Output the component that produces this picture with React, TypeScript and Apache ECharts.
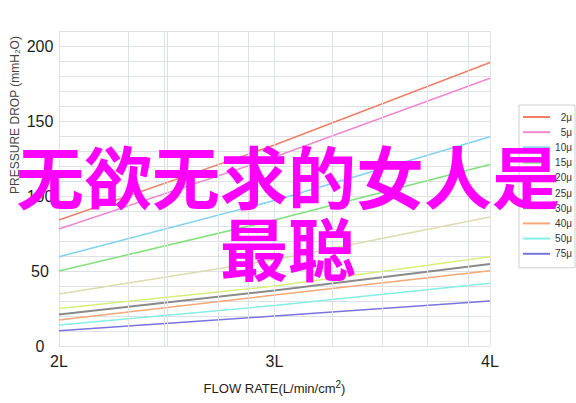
import React, { useEffect, useRef } from "react";
import * as echarts from "echarts";

// flow rate (L/min/cm2) sampled at the axis ticks
const flowRates = [2, 3, 4];
const xTickLabels = ["2L", "3L", "4L"];
// extra vertical grid lines of the original chart paper
const gridX = [2.32, 2.49, 2.5, 2.74, 2.88, 3, 3.27, 3.5, 3.71, 3.9, 4];

const filterNames = ["2μ", "5μ", "10μ", "15μ", "20μ", "25μ", "30μ", "40μ", "50μ", "75μ"];
const filterColors = [
    "#ef7f66",
    "#ee88d0",
    "#7fd2ef",
    "#82e07c",
    "#dcdcae",
    "#d6ef7a",
    "#8a8a8a",
    "#f4a878",
    "#86eee4",
    "#7a74e0",
];

// pressure drop (mmH2O) per filter at 2L, 3L, 4L
const drop2 = [84, 134, 189];
const drop5 = [78, 126, 178.5];
const drop10 = [59.5, 97, 139.5];
const drop15 = [50, 84, 121];
const drop20 = [34.7, 57.5, 86];
const drop25 = [25, 40, 59.5];
const drop30 = [21, 37, 54.7];
const drop40 = [17.3, 34, 50.2];
const drop50 = [14, 27, 41.8];
const drop75 = [10.2, 20, 30];

const allDrops = [drop2, drop5, drop10, drop15, drop20, drop25, drop30, drop40, drop50, drop75];

const overlayLines = ["无欲无求的女人是", "最聪"];

const GRID = "#dde1e5";

export const App: React.FC = () => {
    const chartRef = useRef<HTMLDivElement>(null);

    useEffect(() => {
        const chart = echarts.init(chartRef.current!, undefined, { renderer: "svg" });

        const lineSeries = filterNames.map((name, i) => ({
            name,
            type: "line" as const,
            data: flowRates.map((x, j) => [x, allDrops[i][j]]),
            color: filterColors[i],
            showSymbol: false,
            smooth: false,
            lineStyle: { width: name === "30μ" ? 2 : 1.5, color: filterColors[i] },
            z: 3,
        }));

        const option: any = {
            animation: false,
            backgroundColor: "#fff",
            textStyle: { fontFamily: "'Liberation Sans', Arial, sans-serif" },
            grid: { left: 59, right: 86, top: 31, bottom: 57 },
            xAxis: {
                type: "value",
                min: 2,
                max: 4,
                interval: 1,
                axisLine: { show: true, lineStyle: { color: GRID, width: 1 } },
                axisTick: { show: false },
                splitLine: { show: false },
                axisLabel: {
                    margin: 7,
                    fontSize: 16,
                    color: "#1e1e1e",
                    formatter: (v: number) => xTickLabels[flowRates.indexOf(v)] ?? "",
                },
                name: "FLOW RATE(L/min/cm{sup|2})",
                nameLocation: "middle",
                nameGap: 33,
                nameTextStyle: {
                    fontSize: 13,
                    color: "#2a1d18",
                    rich: {
                        sup: { fontSize: 10, verticalAlign: "top", padding: [0, 0, 8, 0], color: "#2a1d18" },
                    },
                },
            },
            yAxis: {
                type: "value",
                min: 0,
                max: 210,
                interval: 10,
                axisLine: { show: true, lineStyle: { color: GRID, width: 1 } },
                axisTick: { show: false },
                splitLine: { show: true, lineStyle: { color: GRID, width: 1 } },
                axisLabel: {
                    fontSize: 16,
                    color: "#1e1e1e",
                    align: "center",
                    margin: 19,
                    formatter: (v: number) => (v % 50 === 0 ? String(v) : ""),
                },
            },
            legend: {
                data: filterNames,
                orient: "vertical",
                left: 519,
                top: 105,
                padding: [7, 3, 9, 4],
                itemGap: 5.2,
                itemWidth: 27,
                itemHeight: 2,
                icon: "rect",
                borderColor: "#d0d0d0",
                borderWidth: 1,
                backgroundColor: "#fff",
                formatter: (n: string) => `{n|${n}}`,
                textStyle: {
                    rich: {
                        n: { width: 17, align: "right", fontSize: 10, lineHeight: 12, color: "#333" },
                    },
                },
            },
            series: [
                {
                    name: "grid",
                    type: "line",
                    data: [],
                    z: 1,
                    silent: true,
                    markLine: {
                        silent: true,
                        symbol: "none",
                        label: { show: false },
                        lineStyle: { color: GRID, width: 1, type: "solid" },
                        data: gridX.map((x) => ({ xAxis: x })),
                    },
                },
                ...lineSeries,
            ],
            graphic: [
                {
                    type: "text",
                    x: 15,
                    y: 115,
                    rotation: Math.PI / 2,
                    style: {
                        text: "PRESSURE DROP (mmH₂O)",
                        fontSize: 12,
                        fill: "#444",
                        fontFamily: "'Liberation Sans', Arial, sans-serif",
                        textAlign: "center",
                        textVerticalAlign: "middle",
                    },
                },
                ...overlayLines.map((t, i) => ({
                    type: "text",
                    x: 288,
                    y: 174 + i * 72,
                    z: 100,
                    style: {
                        text: t,
                        fontSize: 68,
                        fontWeight: "bold",
                        fill: "#ff00ff",
                        fontFamily: "'Noto Sans CJK SC', sans-serif",
                        textAlign: "center",
                        textVerticalAlign: "middle",
                    },
                })),
            ],
        };

        chart.setOption(option);

        return () => {
            chart.dispose();
        };
    }, []);

    return (
        <div
            ref={chartRef}
            style={{
                position: "fixed",
                left: 0,
                top: 0,
                width: "576px",
                height: "403px",
            }}
        />
    );
};

export default App;
